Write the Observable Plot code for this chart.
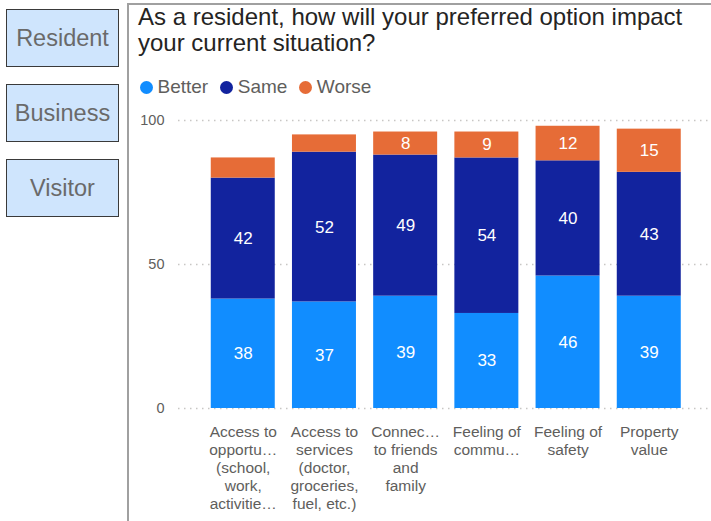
<!DOCTYPE html>
<html>
<head>
<meta charset="utf-8">
<script src="https://cdn.jsdelivr.net/npm/d3@7"></script>
<script src="https://cdn.jsdelivr.net/npm/@observablehq/plot@0.6"></script>
<style>
  html, body { margin: 0; padding: 0; background: #fff; }
  body { width: 711px; height: 521px; position: relative; overflow: hidden; font-family: "Liberation Sans", Arial, sans-serif; }
  .btn { position: absolute; left: 6px; width: 113px; height: 58px; box-sizing: border-box; border: 1.5px solid #3a3a3a; background: #cfe5fd; color: #6a6a6a; font-size: 23.5px; display: flex; align-items: center; justify-content: center; }
  #panel { position: absolute; left: 127px; top: 3px; width: 600px; height: 530px; border-left: 2px solid #a0a0a0; border-top: 2px solid #a0a0a0; }
  #title { position: absolute; left: 138px; top: 4px; font-size: 24px; line-height: 26px; color: #252423; white-space: nowrap; }
  #legend { position: absolute; left: 139.5px; top: 76px; display: flex; font-size: 19px; color: #605E5C; line-height: 22px; }
  .item { display: flex; align-items: center; margin-right: 11.5px; }
  .dot { width: 13px; height: 13px; border-radius: 50%; margin-right: 5px; }
  #chart { position: absolute; left: 128px; top: 100px; }
</style>
</head>
<body>
<div id="buttons"></div>
<div id="panel"></div>
<div id="title">As a resident, how will your preferred option impact<br>your current situation?</div>
<div id="legend"></div>
<div id="chart"></div>
<script>
const buttonLabels = ["Resident", "Business", "Visitor"];
const categories = [
  "Access to opportunities (school, work, activities)",
  "Access to services (doctor, groceries, fuel, etc.)",
  "Connection to friends and family",
  "Feeling of community",
  "Feeling of safety",
  "Property value"
];
const tickLabels = [
  "Access to\nopportu…\n(school,\nwork,\nactivitie…",
  "Access to\nservices\n(doctor,\ngroceries,\nfuel, etc.)",
  "Connec…\nto friends\nand\nfamily",
  "Feeling of\ncommu…",
  "Feeling of\nsafety",
  "Property\nvalue"
];
const series = ["Better", "Same", "Worse"];
const colors = ["#118DFF", "#12239E", "#E66C37"];
const better = [38, 37, 39, 33, 46, 39];
const same = [42, 52, 49, 54, 40, 43];
const worse = [7, 6, 8, 9, 12, 15];
const yTicks = [0, 50, 100];

// buttons
const btnTops = [9, 84, 159];
buttonLabels.forEach((b, i) => {
  const d = document.createElement("div");
  d.className = "btn";
  d.style.top = btnTops[i] + "px";
  d.textContent = b;
  document.getElementById("buttons").appendChild(d);
});

// legend
series.forEach((s, i) => {
  const it = document.createElement("div");
  it.className = "item";
  it.innerHTML = `<span class="dot" style="background:${colors[i]}"></span><span>${s}</span>`;
  document.getElementById("legend").appendChild(it);
});

const valuesBySeries = [better, same, worse];
const rows = [];
categories.forEach((c, i) => {
  series.forEach((s, j) => rows.push({category: c, series: s, value: valuesBySeries[j][i]}));
});
const labelMap = new Map(categories.map((c, i) => [c, tickLabels[i]]));

const chart = Plot.plot({
  width: 583,
  height: 421,
  marginTop: 20,
  marginBottom: 113,
  marginLeft: 50,
  marginRight: 0,
  style: {fontFamily: '"Liberation Sans", Arial, sans-serif', color: "#605E5C", background: "transparent"},
  x: {domain: categories, paddingInner: 0.212, paddingOuter: 0.388, align: 0.52, round: false, label: null},
  y: {domain: [0, 100], label: null},
  color: {domain: series, range: colors},
  marks: [
    Plot.gridY(yTicks, {stroke: "#c8c6c4", strokeOpacity: 1, strokeDasharray: "1.5,4.5", strokeWidth: 1.3}),
    Plot.axisY(yTicks, {tickSize: 0, tickPadding: 14, fontSize: 14.5, label: null}),
    Plot.axisX({tickSize: 0, tickPadding: 16, fontSize: 15.5, lineHeight: 1.16, tickFormat: d => labelMap.get(d), label: null}),
    Plot.barY(rows, Plot.stackY({x: "category", y: "value", fill: "series"})),
    Plot.text(rows, Plot.stackY({x: "category", y: "value", text: d => d.value >= 8 ? String(d.value) : null, fill: "white", fontSize: 17}))
  ]
});
document.getElementById("chart").appendChild(chart);
</script>
</body>
</html>
